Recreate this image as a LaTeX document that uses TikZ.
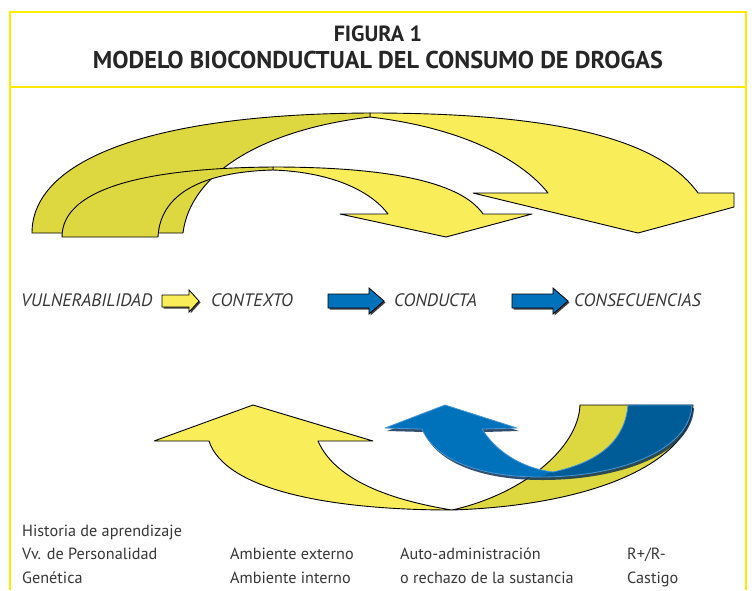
\documentclass[tikz,border=0pt]{standalone}
\usepackage{fontspec}
\setmainfont{PT Sans}
\definecolor{ylight}{RGB}{249,238,90}
\definecolor{ydark}{RGB}{221,215,64}
\definecolor{frameY}{RGB}{255,236,0}
\definecolor{bluel}{RGB}{0,114,188}
\definecolor{blued}{RGB}{0,92,150}
\definecolor{blueedge}{RGB}{70,150,215}
\definecolor{blueshadow}{RGB}{15,50,85}
\definecolor{txt}{RGB}{55,55,55}
\begin{document}
\begin{tikzpicture}[x=1pt,y=-1pt,
  ribbon/.style={draw=black, line width=0.9pt, line join=round},
  blockarrow/.style={draw=black, line width=0.8pt, line join=miter},
  lbl/.style={font=\itshape\fontsize{18}{20}\selectfont, text=txt, inner sep=0pt, anchor=base west},
  body/.style={font=\fontsize{16.2}{18}\selectfont, text=txt, inner sep=0pt, anchor=base west},
  ttl/.style={font=\bfseries, text=black!85, inner sep=0pt, anchor=base},
  frameline/.style={draw=frameY, line width=1.4pt}]
\useasboundingbox (0,0) rectangle (752,590);
\fill[white] (0,0) rectangle (752,590);
% frame
\draw[frameline] (10,590) -- (10,12) -- (746,12) -- (746,590);
\draw[frameline] (10,87) -- (746,87);
% title
\node[ttl, font=\bfseries\fontsize{22}{24}\selectfont] (t1) at (378,41) {FIGURA 1};
\node[ttl, font=\bfseries\fontsize{24.3}{26}\selectfont] (t2) at (378,68) {MODELO BIOCONDUCTUAL DEL CONSUMO DE DROGAS};
% ---- top ribbons ----
% big arrow, light (front) part
\filldraw[ribbon, fill=ylight] (370,113) .. controls (560,113) and (660,140) .. (698,193)
  -- (734,193) -- (734,207) -- (638,233) -- (473,193) -- (548,193)
  .. controls (530,170) and (480,130) .. (370,117) -- cycle;
% big arrow, dark (back) part
\filldraw[ribbon, fill=ydark] (32,233) .. controls (32,160) and (150,114) .. (370,113)
  -- (370,117) .. controls (260,130) and (190,175) .. (183,233) -- cycle;
% small arrow, light part
\filldraw[ribbon, fill=ylight] (273,167) .. controls (380,167) and (460,180) .. (483,214)
  -- (532,214) -- (446,237) -- (340,214) -- (388,214)
  .. controls (370,190) and (330,172) .. (273,170) -- cycle;
% small arrow, dark part
\filldraw[ribbon, fill=ydark] (62,237) .. controls (62,190) and (140,168) .. (273,167)
  -- (273,170) .. controls (200,172) and (160,195) .. (158,237) -- cycle;
% ---- middle row ----
\node[lbl] (vul) at (21,306.5) {VULNERABILIDAD};
\node[lbl] (con) at (211,306.5) {CONTEXTO};
\node[lbl] (cdu) at (394,306.5) {CONDUCTA};
\node[lbl] (csq) at (574,306.5) {CONSECUENCIAS};
% block arrows (shadow + body)
\fill[black!75] (163.5,296.5) -- (190.5,296.5) -- (190.5,291.5) -- (200.5,302.5) -- (190.5,313.5) -- (190.5,308.5) -- (163.5,308.5) -- cycle;
\filldraw[blockarrow, fill=ylight] (162,295) -- (189,295) -- (189,290) -- (199,301) -- (189,312) -- (189,307) -- (162,307) -- cycle;
\fill[black!75] (329.5,295.5) -- (370.5,295.5) -- (370.5,289.5) -- (385.5,302.5) -- (370.5,315.5) -- (370.5,309.5) -- (329.5,309.5) -- cycle;
\filldraw[blockarrow, fill=bluel] (328,294) -- (369,294) -- (369,288) -- (384,301) -- (369,314) -- (369,308) -- (328,308) -- cycle;
\fill[black!75] (513.5,295.5) -- (554.5,295.5) -- (554.5,289.5) -- (569.5,302.5) -- (554.5,315.5) -- (554.5,309.5) -- (513.5,309.5) -- cycle;
\filldraw[blockarrow, fill=bluel] (512,294) -- (553,294) -- (553,288) -- (568,301) -- (553,314) -- (553,308) -- (512,308) -- cycle;
% ---- bottom ribbons ----
% yellow dark band (right, rising)
\filldraw[ribbon, fill=ydark] (452,510) .. controls (600,505) and (690,460) .. (693,405)
  -- (580,405) .. controls (578,450) and (520,495) .. (452,510) -- cycle;
% yellow light up arrow
\filldraw[ribbon, fill=ylight] (253,405) -- (373,441) -- (318,441)
  .. controls (335,480) and (390,500) .. (452,510)
  .. controls (330,510) and (225,490) .. (209,441) -- (154,441) -- cycle;
% blue arrow shadow
\fill[blueshadow, opacity=0.85, shift={(2,3)}] (445,405) -- (517,428) -- (482,429)
  .. controls (495,450) and (520,468) .. (553,472)
  .. controls (600,462) and (625,440) .. (628,405) -- (692,405)
  .. controls (690,450) and (620,477) .. (540,477)
  .. controls (480,477) and (435,460) .. (422,429) -- (385,428) -- cycle;
% blue arrow body
\fill[bluel] (445,405) -- (517,428) -- (482,429)
  .. controls (495,450) and (520,468) .. (553,472)
  .. controls (600,462) and (625,440) .. (628,405) -- (692,405)
  .. controls (690,450) and (620,477) .. (540,477)
  .. controls (480,477) and (435,460) .. (422,429) -- (385,428) -- cycle;
\fill[blued] (553,472) .. controls (600,462) and (625,440) .. (628,405) -- (692,405)
  .. controls (690,450) and (620,477) .. (540,477) -- cycle;
\draw[blueedge, line width=0.8pt, line join=round] (445,405) -- (517,428) -- (482,429)
  .. controls (495,450) and (520,468) .. (553,472)
  .. controls (600,462) and (625,440) .. (628,405) -- (692,405)
  .. controls (690,450) and (620,477) .. (540,477)
  .. controls (480,477) and (435,460) .. (422,429) -- (385,428) -- cycle;
% ---- bottom texts ----
\node[body] (h1) at (22,536) {Historia de aprendizaje};
\node[body] (h2) at (22,559) {Vv. de Personalidad};
\node[body] (h3) at (22,583) {Genética};
\node[body] (a1) at (230,559) {Ambiente externo};
\node[body] (a2) at (230,583) {Ambiente interno};
\node[body] (c1) at (400,559) {Auto-administración};
\node[body] (c2) at (400,583) {o rechazo de la sustancia};
\node[body] (r1) at (627,559) {R+/R-};
\node[body] (r2) at (627,583) {Castigo};
\end{tikzpicture}
\end{document}
